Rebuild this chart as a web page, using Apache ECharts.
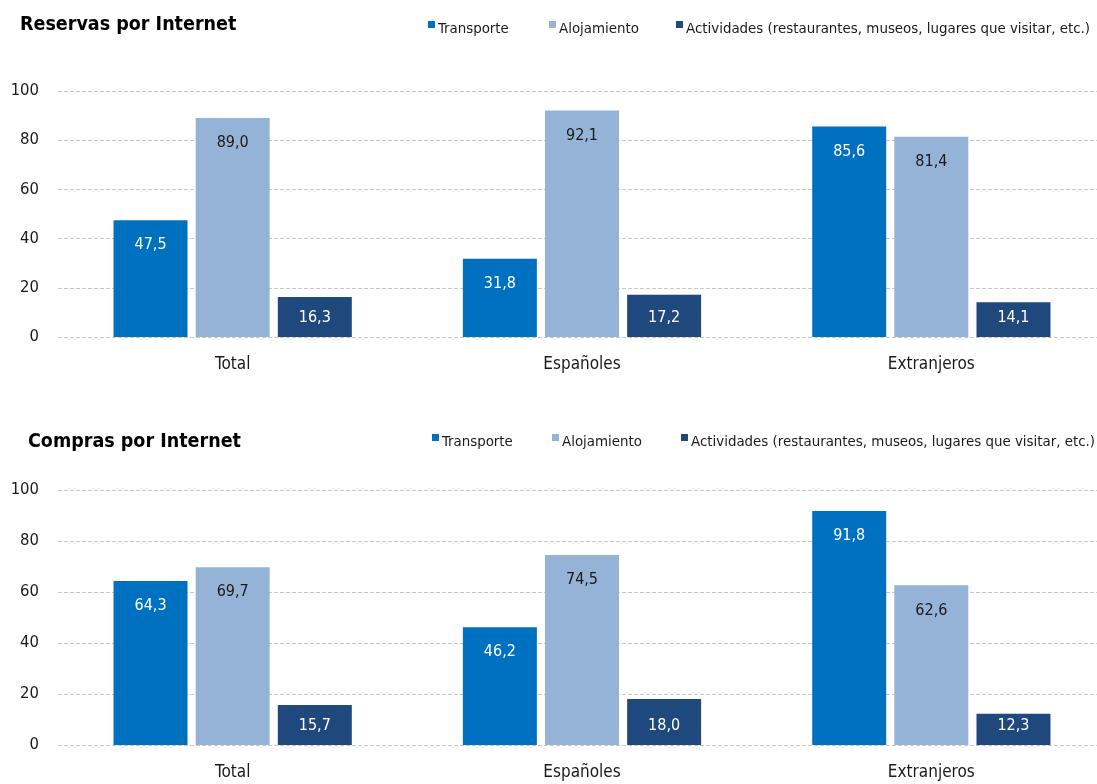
<!DOCTYPE html>
<html>
<head>
<meta charset="utf-8">
<script src="https://cdn.jsdelivr.net/npm/echarts@6/dist/echarts.min.js"></script>
<style>
html,body{margin:0;padding:0;background:#fff;overflow:hidden;}
#c{width:1106px;height:784px;}
</style>
</head>
<body>
<div id="c"></div>
<script>
const categories = ['Total', 'Españoles', 'Extranjeros'];
const seriesNames = ['Transporte', 'Alojamiento', 'Actividades (restaurantes, museos, lugares que visitar, etc.)'];
const reservasTransporte = [47.5, 31.8, 85.6];
const reservasAlojamiento = [89.0, 92.1, 81.4];
const reservasActividades = [16.3, 17.2, 14.1];
const comprasTransporte = [64.3, 46.2, 91.8];
const comprasAlojamiento = [69.7, 74.5, 62.6];
const comprasActividades = [15.7, 18.0, 12.3];
const yTicks = [0, 20, 40, 60, 80, 100];
const titles = ['Reservas por Internet', 'Compras por Internet'];

const FONT = '"DejaVu Sans Condensed", "Liberation Sans Narrow", sans-serif';
const colors = ['#0070C0', '#95B3D7', '#1F497D'];
const labelColors = ['#ffffff', '#1a1a1a', '#ffffff'];

const chart = echarts.init(document.getElementById('c'), null, {renderer: 'canvas'});

function fmt(v) { return v.toFixed(1).replace('.', ','); }

function makeData(arr) {
  return arr.map(v => {
    const short = v < 19;
    return {
      value: v,
      label: short ? {position: 'insideBottom', distance: 11} : {position: 'insideTop', distance: 17}
    };
  });
}

const grids = [
  {left: 58, top: 91, right: 0, height: 246},
  {left: 58, top: 490, right: 0, height: 255}
];

const xAxes = [0, 1].map(i => ({
  type: 'category', gridIndex: i, data: categories,
  axisLine: {show: false}, axisTick: {show: false},
  axisLabel: {color: '#1a1a1a', fontFamily: FONT, fontSize: 17, margin: 19}
}));
const yAxes = [0, 1].map(i => ({
  type: 'value', gridIndex: i, min: yTicks[0], max: yTicks[yTicks.length - 1], interval: yTicks[1] - yTicks[0],
  axisLine: {show: false}, axisTick: {show: false},
  axisLabel: {color: '#1a1a1a', fontFamily: FONT, fontSize: 16.5, margin: 19},
  splitLine: {show: true, lineStyle: {color: '#c8c8c8', type: [4, 2], width: 1}}
}));

const dataSets = [
  [reservasTransporte, reservasAlojamiento, reservasActividades],
  [comprasTransporte, comprasAlojamiento, comprasActividades]
];

const series = [];
dataSets.forEach((set, gi) => {
  set.forEach((arr, si) => {
    series.push({
      type: 'bar', name: seriesNames[si], xAxisIndex: gi, yAxisIndex: gi,
      barWidth: 74, barGap: '11%',
      itemStyle: {color: colors[si]},
      label: {show: true, color: labelColors[si], fontFamily: FONT, fontSize: 16, formatter: p => fmt(p.value)},
      data: makeData(arr)
    });
  });
});

const legendIcon = 'path://M0,0h10v10h-10z M0,22h0.05v0.05h-0.05z';
const legendLefts = [[428, 549, 676], [432, 552, 681]];
const legendTops = [21, 434];
const legends = [];
legendLefts.forEach((lefts, gi) => {
  lefts.forEach((l, si) => {
    legends.push({
      data: [seriesNames[si]], left: l, top: legendTops[gi],
      icon: legendIcon, itemWidth: 7, itemHeight: 15.4, itemGap: 0,
      padding: 0, selectedMode: false,
      textStyle: {color: '#1a1a1a', fontFamily: FONT, fontSize: 14.9, padding: [0, 0, 0, -2]}
    });
  });
});

chart.setOption({
  animation: false,
  backgroundColor: '#ffffff',
  title: [
    {text: titles[0], left: 20, top: 15, padding: 0, textStyle: {fontFamily: FONT, fontWeight: 'bold', fontSize: 19.5, color: '#000'}},
    {text: titles[1], left: 28, top: 432, padding: 0, textStyle: {fontFamily: FONT, fontWeight: 'bold', fontSize: 19.5, color: '#000'}}
  ],
  legend: legends,
  grid: grids,
  xAxis: xAxes,
  yAxis: yAxes,
  series: series
});
</script>
</body>
</html>
